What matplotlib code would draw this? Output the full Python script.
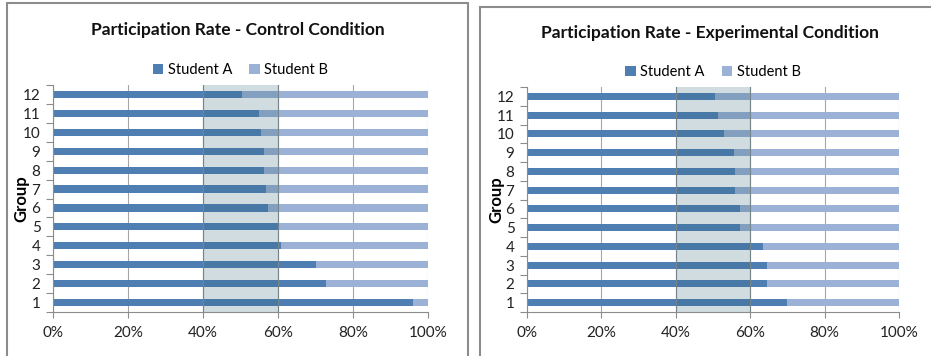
import numpy as np
import matplotlib
matplotlib.use("Agg")
import matplotlib.pyplot as plt
from matplotlib.patches import Rectangle

plt.rcParams['font.family'] = ['Lato', 'DejaVu Sans']

# Data (share of participation by Student A, per group)
groups = np.arange(1, 13)
control_a = [95.9, 72.9, 70.1, 60.9, 59.9, 57.4, 56.7, 56.2, 56.2, 55.5, 54.8, 50.4]
experimental_a = [69.8, 64.4, 64.4, 63.5, 57.3, 57.3, 55.9, 55.9, 55.6, 52.9, 51.3, 50.6]
titles = ["Participation Rate - Control Condition",
          "Participation Rate - Experimental Condition"]
xticks = [0, 20, 40, 60, 80, 100]
xticklabels = ["0%", "20%", "40%", "60%", "80%", "100%"]

color_a = "#4F7EB3"
color_b = "#9BB1D5"
W, H = 931, 356


def px(left, top, right, bottom):
    return [left / W, 1 - bottom / H, (right - left) / W, (bottom - top) / H]


fig = plt.figure(figsize=(W / 100, H / 100), dpi=100)

# panel frames
fig.patches.append(Rectangle((7 / W, -0.1), (468 - 7) / W, 1.1 - 3 / H,
                             transform=fig.transFigure, fill=False,
                             edgecolor="#8C8C8C", linewidth=1.5))
fig.patches.append(Rectangle((480 / W, -0.1), 0.5, 1.1 - 7 / H,
                             transform=fig.transFigure, fill=False,
                             edgecolor="#8C8C8C", linewidth=1.5))

panels = [
    (control_a, px(53, 85, 428, 312), 30, 70, 21),
    (experimental_a, px(527, 87, 899, 312), 33, 72, 496),
]

for i, (vals_a, rect, title_y, leg_y, ylab_x) in enumerate(panels):
    ax = fig.add_axes(rect)
    vals_a = np.array(vals_a)
    vals_b = 100 - vals_a
    ax.barh(groups, vals_a, height=0.38, color=color_a, label="Student A", zorder=2)
    ax.barh(groups, vals_b, left=vals_a, height=0.38, color=color_b, label="Student B", zorder=2)
    # 40-60% band laid over the bars
    ax.axvspan(40, 60, facecolor="#2E6378", alpha=0.22, edgecolor="none", zorder=3)
    ax.axvline(40, color="#76858A", linewidth=0.8, zorder=3)
    ax.axvline(60, color="#76858A", linewidth=0.8, zorder=3)

    ax.set_xlim(0, 100)
    ax.set_ylim(0.5, 12.5)
    ax.set_xticks(xticks)
    ax.set_xticklabels(xticklabels, fontsize=11, color="#222222")
    ax.set_yticks(groups)
    ax.set_yticklabels([str(g) for g in groups], fontsize=11, color="#222222")
    ax.set_yticks(np.arange(0.5, 13, 1), minor=True)
    ax.tick_params(axis="y", which="major", length=0, pad=9)
    ax.tick_params(axis="y", which="minor", length=5, color="#8C8C8C", width=0.8)
    ax.tick_params(axis="x", length=4, color="#8C8C8C", width=0.8, pad=6)
    ax.grid(axis="x", color="#A6A6A6", linewidth=0.8, zorder=0)
    ax.set_axisbelow(True)
    for side in ["top", "right"]:
        ax.spines[side].set_visible(False)
    for side in ["left", "bottom"]:
        ax.spines[side].set_color("#8C8C8C")
        ax.spines[side].set_linewidth(0.8)

    cx = rect[0] + rect[2] / 2
    fig.text(cx - 3 / W, 1 - title_y / H, titles[i], ha="center", va="center",
             fontsize=12.5, fontweight="bold", color="#111111")
    fig.text(ylab_x / W, rect[1] + rect[3] / 2, "Group", rotation=90,
             ha="center", va="center", fontsize=12, fontweight="bold")
    fig.legend(*ax.get_legend_handles_labels(), loc="center",
               bbox_to_anchor=(cx, 1 - leg_y / H), ncol=2, frameon=False,
               fontsize=10.5, handlelength=0.7, handleheight=0.7,
               handletextpad=0.3, columnspacing=1.2, borderpad=0)

fig.savefig("out.png", dpi=100)
